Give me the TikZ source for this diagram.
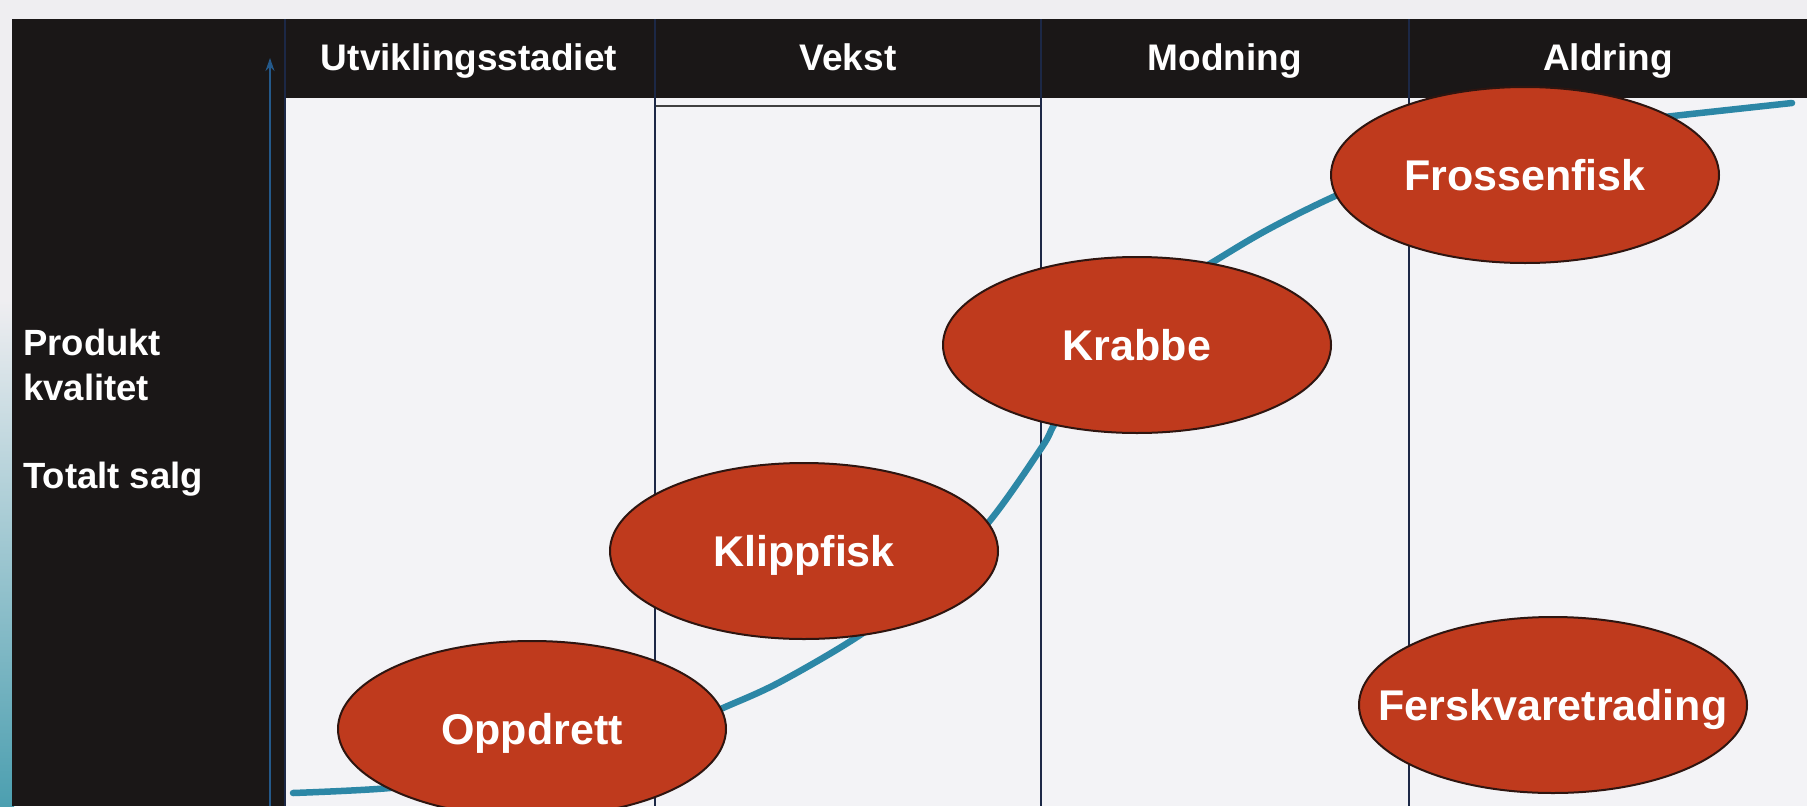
\documentclass[tikz,border=0pt]{standalone}
\usepackage{fontspec}
\setmainfont{Liberation Sans}
\usetikzlibrary{shapes.geometric,arrows.meta}
\definecolor{bgpage}{HTML}{EFEEF1}
\definecolor{panelblack}{HTML}{1A1717}
\definecolor{chartbg}{HTML}{F3F3F6}
\definecolor{sepline}{HTML}{1C2846}
\definecolor{ovalred}{HTML}{BF3A1D}
\definecolor{ovaledge}{HTML}{2E1510}
\definecolor{curveblue}{HTML}{2C87A6}
\definecolor{axisblue}{HTML}{24598A}
\definecolor{tealedge}{HTML}{4C9FB0}
\newcommand{\ovaltxt}[1]{\makebox[0pt][c]{#1}}
\tikzset{
  stagebox/.style={ellipse, fill=ovalred, draw=ovaledge, line width=2pt,
    minimum width=388pt, minimum height=176pt, inner sep=0pt,
    text=white, font=\fontsize{43}{50}\selectfont\bfseries,
    text height=31pt, text depth=0pt},
  headtext/.style={anchor=base, text=white, inner sep=0pt,
    font=\fontsize{37}{44}\selectfont\bfseries},
  sidetext/.style={anchor=base west, text=white, inner sep=0pt,
    font=\fontsize{36.5}{44}\selectfont\bfseries},
  colsep/.style={draw=sepline, line width=2.6pt},
  lifecurve/.style={draw=curveblue, line width=6.5pt, line cap=round},
  axisline/.style={draw=axisblue, line width=2pt}
}
\begin{document}
\begin{tikzpicture}[x=1pt,y=-1pt]
\useasboundingbox (0,0) rectangle (1807,806);
% page background with teal tint at lower left
\fill[bgpage] (0,0) rectangle (1807,806);
\shade[top color=bgpage, middle color=bgpage!85!tealedge, bottom color=tealedge] (0,300) rectangle (14,806);
% left panel
\fill[panelblack] (12,19) rectangle (285,806);
% header band
\fill[panelblack] (285,19) rectangle (1807,98);
% chart area
\fill[chartbg] (285,98) rectangle (1807,806);
% Vekst double line
\draw[draw=black!75, line width=2.4pt] (655,106) -- (1041,106);
% column separators
\draw[colsep] (285,19) -- (285,806);
\draw[colsep] (655,19) -- (655,806);
\draw[colsep] (1041,19) -- (1041,806);
\draw[colsep] (1409,19) -- (1409,806);
% axis arrow
\coordinate (axisbot) at (270,806);
\coordinate (axistop) at (270,58);
\draw[axisline, -{Stealth[length=13pt,width=9pt]}] (axisbot) -- (axistop);
% header texts
\node[headtext] (h1) at (469,70) {Utviklingsstadiet};
\node[headtext] (h2) at (848,70) {Vekst};
\node[headtext] (h3) at (1225,70) {Modning};
\node[headtext] (h4) at (1608,70) {Aldring};
% side labels
\node[sidetext] (s1) at (23,355) {Produkt};
\node[sidetext] (s2) at (23,400) {kvalitet};
\node[sidetext] (s3) at (23,488) {Totalt salg};
% life-cycle curve
\coordinate (cstart) at (293,793);
\coordinate (cend) at (1792,103);
\draw[lifecurve] plot[smooth, tension=0.55] coordinates {
  (293,793) (390,788) (480,776) (580,754) (680,727) (723,708) (780,682)
  (863,633) (930,580) (988,523) (1042,447) (1057,420) (1105,348)
  (1155,298) (1213,262) (1267,230) (1333,197) (1420,160) (1540,131)
  (1673,116) (1792,103)};
% stage ovals
\node[stagebox] (oppdrett) at (532,729) {\ovaltxt{Oppdrett}};
\node[stagebox] (klippfisk) at (804,551) {\ovaltxt{Klippfisk}};
\node[stagebox] (krabbe) at (1137,345) {\ovaltxt{Krabbe}};
\node[stagebox] (frossen) at (1525,175) {\ovaltxt{Frossenfisk}};
\node[stagebox] (fersk) at (1553,705) {\ovaltxt{Ferskvaretrading}};
\end{tikzpicture}
\end{document}
